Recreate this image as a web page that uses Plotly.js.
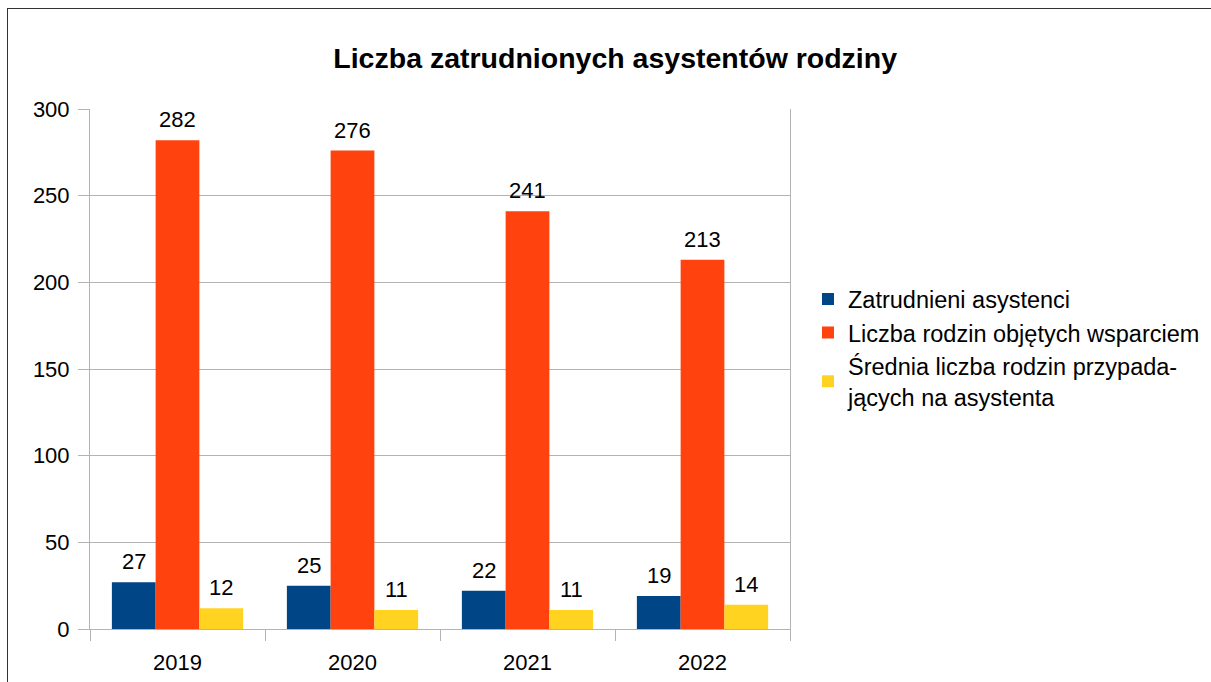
<!DOCTYPE html>
<html>
<head>
<meta charset="utf-8">
<script src="https://cdn.plot.ly/plotly-3.0.1.min.js"></script>
<style>
html,body{margin:0;padding:0;background:#fff;overflow:hidden;}
#wrap{position:relative;width:1211px;height:682px;overflow:hidden;}
#chart{width:1211px;height:682px;}
#frame{position:absolute;left:7px;top:8px;width:1300px;height:800px;border-left:1px solid #333;border-top:1px solid #333;pointer-events:none;}
</style>
</head>
<body>
<div id="wrap">
<div id="chart"></div>
<div id="frame"></div>
</div>
<script>
const years = ["2019", "2020", "2021", "2022"];
const seriesNames = [
  "Zatrudnieni asystenci",
  "Liczba rodzin objętych wsparciem",
  "Średnia liczba rodzin przypada-<br>jących na asystenta"
];
const assistants = [27, 25, 22, 19];
const families = [282, 276, 241, 213];
const averagePerAssistant = [12, 11, 11, 14];
const colors = ["#004586", "#ff420e", "#ffd320"];
const yTicks = [0, 50, 100, 150, 200, 250, 300];

const values = [assistants, families, averagePerAssistant];
const font = "Liberation Sans, Arial, sans-serif";
const bargap = 0.25;
const barWidth = (1 - bargap) / values.length;

const traces = values.map((v, i) => ({
  type: "bar",
  x: years,
  y: v,
  name: seriesNames[i],
  marker: {color: colors[i], line: {width: 0}},
  hoverinfo: "skip"
}));

const annotations = [];
values.forEach((v, i) => {
  v.forEach((val, j) => {
    annotations.push({
      xref: "x", yref: "y",
      x: j + (i - (values.length - 1) / 2) * barWidth,
      y: val,
      text: String(val),
      showarrow: false,
      xanchor: "center", yanchor: "bottom",
      yshift: 6,
      font: {family: font, size: 22, color: "#000"}
    });
  });
});

const layout = {
  width: 1211,
  height: 682,
  margin: {l: 90, r: 421, t: 109, b: 53, autoexpand: false},
  paper_bgcolor: "#fff",
  plot_bgcolor: "#fff",
  font: {family: font, size: 22, color: "#000"},
  title: {
    text: "<b>Liczba zatrudnionych asystentów rodziny</b>",
    font: {family: font, size: 28.5, color: "#000"},
    x: 0.508, xref: "container", xanchor: "center",
    y: 0.915, yref: "container", yanchor: "middle"
  },
  barmode: "group",
  bargap: bargap,
  bargroupgap: 0,
  showlegend: true,
  legend: {
    x: 1.0257, xref: "paper", xanchor: "left",
    y: 0.54, yref: "paper", yanchor: "middle",
    font: {family: font, size: 23.5, color: "#000"},
    itemwidth: 30,
    tracegroupgap: 0,
    bgcolor: "rgba(0,0,0,0)"
  },
  annotations: annotations,
  xaxis: {
    type: "category",
    range: [-0.5, 3.5],
    tickson: "boundaries",
    ticks: "outside",
    ticklen: 11,
    tickcolor: "#b3b3b3",
    tickwidth: 1,
    showline: true,
    linecolor: "#b3b3b3",
    linewidth: 1,
    showgrid: false,
    tickfont: {family: font, size: 22, color: "#000"},
    ticklabelstandoff: 14,
    fixedrange: true
  },
  yaxis: {
    range: [0, 300],
    tickvals: yTicks,
    ticktext: yTicks.map(String),
    ticks: "outside",
    ticklen: 11,
    tickcolor: "#b3b3b3",
    tickwidth: 1,
    showline: true,
    mirror: true,
    linecolor: "#b3b3b3",
    linewidth: 1,
    showgrid: true,
    gridcolor: "#b3b3b3",
    gridwidth: 1,
    zeroline: false,
    tickfont: {family: font, size: 22, color: "#000"},
    ticklabelstandoff: 4,
    fixedrange: true
  }
};

Plotly.newPlot("chart", traces, layout, {displayModeBar: false, staticPlot: true});
</script>
</body>
</html>
